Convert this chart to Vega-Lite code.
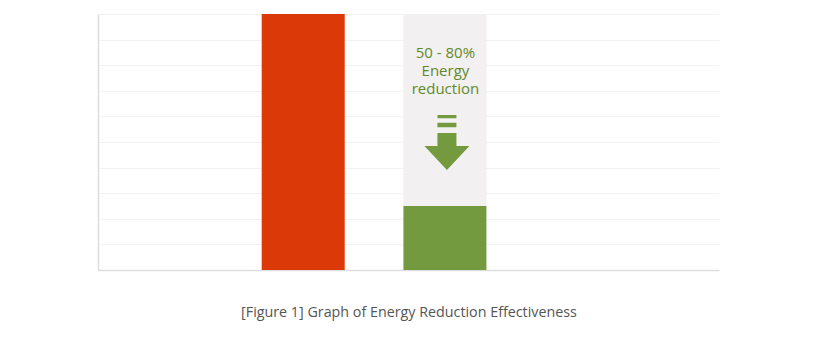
{
  "$schema": "https://vega.github.io/schema/vega-lite/v6.json",
  "width": 621,
  "height": 256,
  "autosize": {"type": "none"},
  "padding": {"left": 98, "top": 14, "right": 100, "bottom": 87},
  "background": "white",
  "config": {"view": {"stroke": null}, "font": "Open Sans"},
  "datasets": {
    "bars": [
      {"slot": 1, "series": "Conventional", "value": 10},
      {"slot": 2, "series": "Energy-saving", "value": 2.5},
      {"slot": 2, "series": "Reduction", "value": 7.5}
    ],
    "note": [
      {"slot": 2, "label": "50 - 80%\nEnergy\nreduction"}
    ]
  },
  "layer": [
    {
      "data": {"name": "bars"},
      "mark": {"type": "bar", "size": 83},
      "encoding": {
        "x": {
          "field": "slot",
          "type": "quantitative",
          "scale": {"domain": [-0.413, 3.899], "nice": false, "zero": false},
          "axis": {
            "title": "[Figure 1] Graph of Energy Reduction Effectiveness",
            "labels": false,
            "ticks": false,
            "grid": false,
            "domainColor": "#dddddd",
            "domainWidth": 1.5,
            "titlePadding": 46,
            "titleBaseline": "alphabetic",
            "titleFont": "Open Sans",
            "titleFontSize": 14.3,
            "titleFontWeight": "normal",
            "titleColor": "#555555"
          }
        },
        "y": {
          "field": "value",
          "type": "quantitative",
          "stack": "zero",
          "scale": {"domain": [0, 10], "nice": false},
          "axis": {
            "title": null,
            "labels": false,
            "ticks": false,
            "tickCount": 10,
            "gridColor": "#f1f1f1",
            "domainColor": "#dddddd",
            "domainWidth": 1.5
          }
        },
        "color": {
          "field": "series",
          "type": "nominal",
          "scale": {
            "domain": ["Conventional", "Energy-saving", "Reduction"],
            "range": ["#dc3908", "#739a3f", "#f2f0f0"]
          },
          "legend": null
        },
        "order": {"field": "series", "type": "nominal"}
      }
    },
    {
      "data": {"name": "note"},
      "mark": {
        "type": "text",
        "lineBreak": "\n",
        "lineHeight": 18,
        "fontSize": 15,
        "align": "center",
        "baseline": "alphabetic",
        "color": "#5f8a2c",
        "font": "Open Sans",
        "dx": 0.5
      },
      "encoding": {
        "x": {"field": "slot", "type": "quantitative"},
        "y": {"datum": 8.27, "type": "quantitative"},
        "text": {"field": "label", "type": "nominal"}
      }
    },
    {
      "data": {"name": "note"},
      "mark": {
        "type": "point",
        "shape": "M-0.345,-1H0.345V-0.88H-0.345Z M-0.345,-0.72H0.345V-0.553H-0.345Z M-0.345,-0.345H0.345V0.127H0.818L0,1L-0.818,0.127H-0.345Z",
        "filled": true,
        "size": 3025,
        "opacity": 1,
        "strokeWidth": 0,
        "color": "#739a3f",
        "xOffset": 2
      },
      "encoding": {
        "x": {"field": "slot", "type": "quantitative"},
        "y": {"datum": 4.98, "type": "quantitative"}
      }
    }
  ]
}
